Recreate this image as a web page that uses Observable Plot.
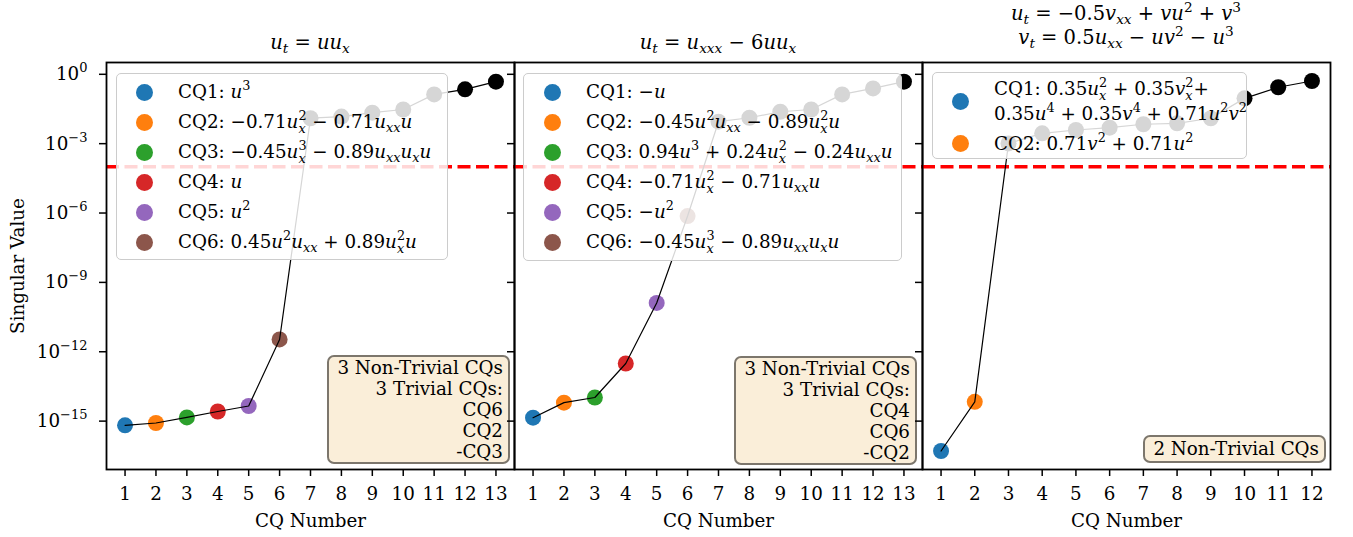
<!DOCTYPE html>
<html>
<head>
<meta charset="utf-8">
<script src="https://cdn.jsdelivr.net/npm/d3@7"></script>
<script src="https://cdn.jsdelivr.net/npm/@observablehq/plot@0.6"></script>
<style>
  html, body { margin: 0; padding: 0; background: #fff; }
  #fig { position: relative; width: 1353px; height: 537px; overflow: hidden;
         font-family: "DejaVu Serif", serif; font-size: 18.3px; color: #000; }
  #fig svg { position: absolute; top: 0; overflow: visible; }
  .title { position: absolute; width: 408px; text-align: center; line-height: 24px; white-space: nowrap; font-size: 19.5px; }
  .legend { position: absolute; background: rgba(255,255,255,0.84); border: 1.5px solid #cccccc;
            border-radius: 5px; box-sizing: border-box; }
  .row { position: relative; white-space: nowrap; }
  .ldot { position: absolute; width: 17px; height: 17px; border-radius: 50%; top: 50%; margin-top: -8.5px; }
  .lt { position: absolute; top: 0; }
  .box { position: absolute; background: rgba(245,222,179,0.5); border: 2.5px solid rgba(0,0,0,0.5);
         border-radius: 7px; text-align: right; line-height: 21px; padding: 0 5px 0 8px; white-space: nowrap; }
  .m i { font-style: italic; }
  .sp1 { font-size: 70%; vertical-align: 0.6em; line-height: 0; }
  .sb1 { font-size: 70%; vertical-align: -0.3em; line-height: 0; }
  .ss { display: inline-block; font-size: 70%; line-height: 1; vertical-align: -0.4em; margin: -0.3em 0; }
  .ss > span { display: block; }
</style>
</head>
<body>
<div id="fig"></div>
<script>
// ---------------- data ----------------
const cqNumbers1 = [1, 2, 3, 4, 5, 6, 7, 8, 9, 10, 11, 12, 13];
const singularValues1 = [6.6e-16, 8.3e-16, 1.45e-15, 2.6e-15, 4.5e-15, 3.4e-12, 1.26e-2, 1.48e-2, 2.19e-2, 3.0e-2, 0.135, 0.224, 0.479];
const cqNumbers2 = [1, 2, 3, 4, 5, 6, 7, 8, 9, 10, 11, 12, 13];
const singularValues2 = [1.41e-15, 6.3e-15, 1.05e-14, 3.1e-13, 1.29e-10, 7.4e-7, 8.9e-3, 1.32e-2, 2.4e-2, 3.0e-2, 0.135, 0.245, 0.479];
const cqNumbers3 = [1, 2, 3, 4, 5, 6, 7, 8, 9, 10, 11, 12];
const singularValues3 = [5.1e-17, 6.8e-15, 1.02e-3, 2.8e-3, 3.9e-3, 4.9e-3, 6.9e-3, 7.6e-3, 1.26e-2, 9.1e-2, 0.275, 0.513];
const threshold = 1e-4;
const cqColors = ["#1f77b4", "#ff7f0e", "#2ca02c", "#d62728", "#9467bd", "#8c564b"];
const yTicks = [1e0, 1e-3, 1e-6, 1e-9, 1e-12, 1e-15];

const titles1 = ["u_t = uu_x"];
const titles2 = ["u_t = u_{xxx} − 6uu_x"];
const titles3 = ["u_t = −0.5v_{xx} + vu^2 + v^3", "v_t = 0.5u_{xx} − uv^2 − u^3"];

const cqLabels1 = ["u^3", "−0.71u_x^2 − 0.71u_{xx}u", "−0.45u_x^3 − 0.89u_{xx}u_xu", "u", "u^2", "0.45u^2u_{xx} + 0.89u_x^2u"];
const cqLabels2 = ["−u", "−0.45u^2u_{xx} − 0.89u_x^2u", "0.94u^3 + 0.24u_x^2 − 0.24u_{xx}u", "−0.71u_x^2 − 0.71u_{xx}u", "−u^2", "−0.45u_x^3 − 0.89u_{xx}u_xu"];
const cqLabels3 = ["0.35u_x^2 + 0.35v_x^2+\n0.35u^4 + 0.35v^4 + 0.71u^2v^2", "0.71v^2 + 0.71u^2"];

const boxText1 = ["3 Non-Trivial CQs", "3 Trivial CQs:", "CQ6", "CQ2", "-CQ3"];
const boxText2 = ["3 Non-Trivial CQs", "3 Trivial CQs:", "CQ4", "CQ6", "-CQ2"];
const boxText3 = ["2 Non-Trivial CQs"];

// ---------------- helpers ----------------
const FONT = '"DejaVu Serif", serif';
const powFormat = d => "10^" + String(Math.round(Math.log10(d))).replace("-", "−");

function mathHTML(s) {
  let out = "", i = 0;
  const fmt = t => t.replace(/[a-z]/g, c => `<i>${c}</i>`);
  const atom = () => {
    if (s[i] === "{") { const j = s.indexOf("}", i); const g = s.slice(i + 1, j); i = j + 1; return g; }
    return s[i++];
  };
  while (i < s.length) {
    const c = s[i];
    if (c === "_" || c === "^") {
      let sub = null, sup = null;
      while (s[i] === "_" || s[i] === "^") { const k = s[i++]; const a = atom(); if (k === "_") sub = a; else sup = a; }
      if (sub !== null && sup !== null) out += `<span class="ss"><span>${fmt(sup)}</span><span>${fmt(sub)}</span></span>`;
      else if (sub !== null) out += `<span class="sb1">${fmt(sub)}</span>`;
      else out += `<span class="sp1">${fmt(sup)}</span>`;
    } else if (c === "\n") { out += "<br>"; i++; }
    else { out += fmt(c); i++; }
  }
  return `<span class="m">${out}</span>`;
}

// turn "10^−3" tick texts into "10" + superscript tspan
function superscriptTicks(svg) {
  svg.querySelectorAll("text").forEach(t => {
    const s = t.textContent;
    if (!s.includes("^")) return;
    const [base, exp] = s.split("^");
    t.textContent = base;
    const ts = document.createElementNS("http://www.w3.org/2000/svg", "tspan");
    ts.setAttribute("dy", "-8");
    ts.setAttribute("font-size", "13px");
    ts.textContent = exp;
    t.appendChild(ts);
  });
}

// shared log y-domain with matplotlib-like 5% margins
const allValues = [...singularValues1, ...singularValues2, ...singularValues3];
const lo = Math.log10(d3.min(allValues)), hi = Math.log10(d3.max(allValues));
const yDomain = [10 ** (lo - 0.05 * (hi - lo)), 10 ** (hi + 0.05 * (hi - lo))];

const FRAME_W = 408, MT = 62, MB = 68, H = 537;

const panels = [
  {x: cqNumbers1, y: singularValues1, nCQ: 6, frameLeft: 106, ml: 106, mr: 8, first: true,
   titles: titles1, titleTop: 31, labels: cqLabels1, box: boxText1,
   legend: {left: 116, top: 73, width: 332, pad: [3, 2], rowH: [30, 30, 30, 30, 30, 30], dotX: 27, textX: 61},
   boxPos: {right: 510, top: 355}},
  {x: cqNumbers2, y: singularValues2, nCQ: 6, frameLeft: 514, ml: 10, mr: 8, first: false,
   titles: titles2, titleTop: 31, labels: cqLabels2, box: boxText2,
   legend: {left: 523, top: 73, width: 379, pad: [3, 3], rowH: [30, 30, 30, 30, 30, 30], dotX: 28, textX: 62},
   boxPos: {right: 917, top: 356}},
  {x: cqNumbers3, y: singularValues3, nCQ: 2, frameLeft: 922, ml: 10, mr: 20, first: false,
   titles: titles3, titleTop: 2, labels: cqLabels3, box: boxText3,
   legend: {left: 932, top: 72, width: 315, pad: [3, 3], rowH: [50, 24], gap: 5, lineH: 25, dotX: 27, textX: 61},
   boxPos: {right: 1326, top: 435}}
];

const fig = document.getElementById("fig");

for (const p of panels) {
  const n = p.x.length;
  const data = p.x.map((x, i) => ({x, y: p.y[i], c: i < p.nCQ ? cqColors[i] : "black"}));
  const xPad = 0.05 * (n - 1);
  const svg = Plot.plot({
    width: p.ml + FRAME_W + p.mr,
    height: H,
    marginTop: MT, marginBottom: MB, marginLeft: p.ml, marginRight: p.mr,
    style: {fontFamily: FONT, fontSize: "18.3px", background: "transparent", overflow: "visible", color: "black"},
    x: {domain: [1 - xPad, n + xPad]},
    y: {type: "log", domain: yDomain},
    color: {type: "identity"},
    marks: [
      Plot.ruleY([threshold], {stroke: "#ff0000", strokeWidth: 3.5, strokeDasharray: "13,5.5"}),
      Plot.dot(data, {x: "x", y: "y", r: 8, fill: "c", stroke: null}),
      Plot.line(data, {x: "x", y: "y", stroke: "black", strokeWidth: 1.2}),
      Plot.frame({stroke: "black", strokeWidth: 1.8}),
      Plot.axisX({ticks: p.x, tickFormat: d => String(d), tickSize: 7, tickPadding: 10, strokeWidth: 1.5,
                  label: "CQ Number", labelAnchor: "center", labelArrow: "none", labelOffset: 57}),
      p.first
        ? Plot.axisY({ticks: yTicks, tickFormat: powFormat, tickSize: 7, tickPadding: 12, strokeWidth: 1.5,
                      label: "Singular Value", labelAnchor: "center", labelArrow: "none", labelOffset: 96})
        : Plot.axisY({ticks: yTicks, tickFormat: () => "", tickSize: 7, strokeWidth: 1.5, label: null})
    ]
  });
  superscriptTicks(svg);
  svg.style.left = (p.frameLeft - p.ml) + "px";
  fig.appendChild(svg);

  // title (HTML, above the frame)
  const t = document.createElement("div");
  t.className = "title";
  t.style.left = p.frameLeft + "px";
  t.style.top = p.titleTop + "px";
  t.innerHTML = p.titles.map(mathHTML).join("<br>");
  fig.appendChild(t);

  // legend (HTML overlay, semi-transparent like matplotlib's)
  const L = p.legend;
  const lg = document.createElement("div");
  lg.className = "legend";
  lg.style.left = L.left + "px";
  lg.style.top = L.top + "px";
  lg.style.width = L.width + "px";
  lg.style.padding = `${L.pad[0]}px 0 ${L.pad[1]}px 0`;
  p.labels.forEach((lab, i) => {
    const r = document.createElement("div");
    r.className = "row";
    r.style.height = L.rowH[i] + "px";
    r.style.lineHeight = (L.lineH || L.rowH[i]) + "px";
    if (L.gap && i < p.labels.length - 1) r.style.marginBottom = L.gap + "px";
    r.innerHTML = `<span class="ldot" style="left:${L.dotX - 8.5}px;background:${cqColors[i]}"></span>` +
                  `<span class="lt" style="left:${L.textX}px">CQ${i + 1}:&nbsp;${mathHTML(lab)}</span>`;
    lg.appendChild(r);
  });
  fig.appendChild(lg);

  // annotation box
  const b = document.createElement("div");
  b.className = "box";
  b.style.right = (1353 - p.boxPos.right) + "px";
  b.style.top = p.boxPos.top + "px";
  b.innerHTML = p.box.join("<br>");
  if (p.box.length === 1) b.style.lineHeight = "24px";
  fig.appendChild(b);
}
</script>
</body>
</html>
